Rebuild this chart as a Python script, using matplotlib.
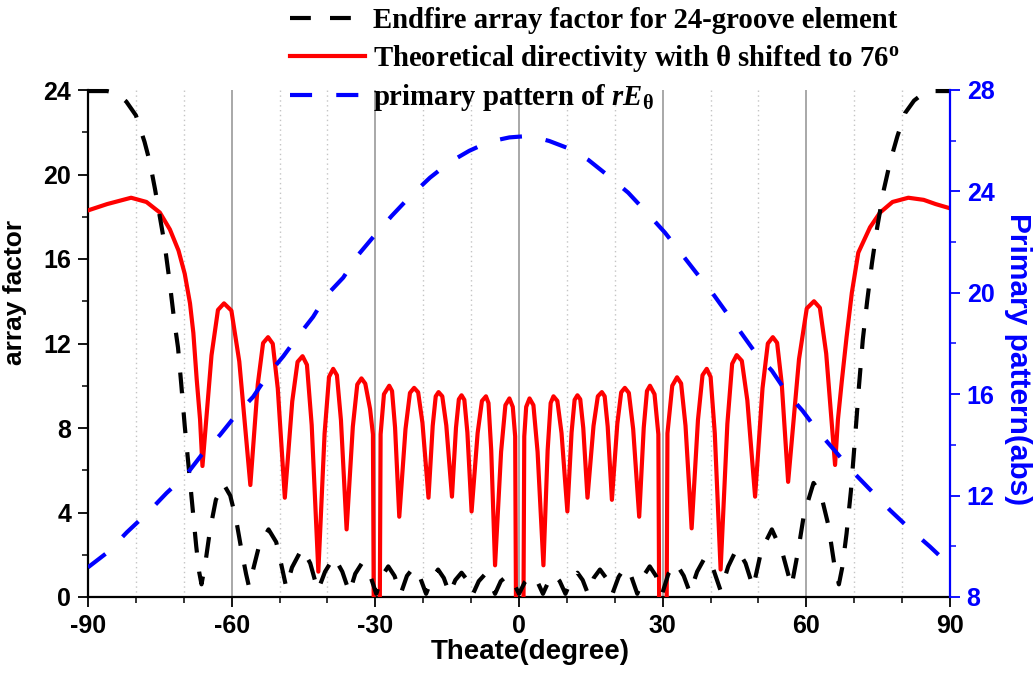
import matplotlib

matplotlib.use("Agg")
import matplotlib.pyplot as plt
from matplotlib.font_manager import FontProperties
from matplotlib.ticker import MultipleLocator

plt.rcParams["font.family"] = ["Liberation Sans", "DejaVu Sans"]
plt.rcParams["font.weight"] = "bold"
plt.rcParams["axes.labelweight"] = "bold"
plt.rcParams["axes.unicode_minus"] = False
plt.rcParams["mathtext.fontset"] = "custom"
plt.rcParams["mathtext.rm"] = "Liberation Serif:bold"
plt.rcParams["mathtext.it"] = "Liberation Serif:italic:bold"
plt.rcParams["mathtext.bf"] = "Liberation Serif:bold"

BLUE = "#0000FF"
RED = "#FF0000"

# endfire array factor (left axis)
AF_THETA = [-90, -86, -84, -82, -80, -78.2, -77.1, -76, -75, -74, -73, -72,
            -71.2, -70.5, -69.8, -69, -68.2, -67.4, -66.8, -66.3, -65.5, -64.5,
            -63.3, -61.7, -60.3, -59.1, -57.9, -57.0, -56.4, -55.4, -54.3, -52.3,
            -50.7, -49.6, -48.6, -47.4, -45.3, -43.6, -42.0, -40.5, -38.6, -36.9,
            -35.4, -34.2, -32.8, -31.2, -29.8, -28.6, -27.3, -26.0, -24.7, -23.4,
            -22.0, -20.7, -19.4, -18.1, -16.9, -15.7, -14.5, -13.3, -12.0, -10.8,
            -9.6, -8.4, -7.2, -6.1, -5.0, -3.8, -2.5, -1.2, 0.0, 1.2, 2.5, 3.8,
            5.0, 6.2, 7.4, 8.5, 9.7, 10.9, 12.2, 13.3, 14.4, 15.6, 16.9, 18.2,
            19.5, 20.8, 22.1, 23.4, 24.7, 26.0, 27.3, 28.6, 29.9, 31.2, 32.8,
            34.4, 35.7, 37.2, 38.9, 40.6, 42.1, 43.7, 45.5, 47.3, 48.9, 50.6,
            52.8, 55.0, 56.9, 58.3, 59.5, 61.5, 63.0, 64.6, 65.8, 66.8, 67.5,
            68.4, 69.3, 70.2, 71.0, 71.8, 72.7, 73.7, 74.8, 76.2, 77.5, 79.0,
            80.6, 82.5, 84.5, 86.5, 90]
AF = [23.95, 23.95, 23.85, 23.45, 22.8, 21.55, 20.6, 19.3, 18.0, 16.7, 15.0, 13.1,
      11.8, 10.0, 8.1, 6.2, 4.3, 2.4, 1.2, 0.6, 1.6, 3.2,
      4.6, 5.35, 4.8, 3.7, 2.15, 1.1, 0.5, 1.4, 2.4, 3.2,
      2.6, 1.5, 0.45, 1.4, 2.3, 1.6, 0.3, 1.2, 1.9, 1.2,
      0.2, 1.1, 1.6, 1.1, 0.15, 1.0, 1.45, 1.0, 0.15, 1.0,
      1.4, 0.95, 0.15, 0.9, 1.3, 0.9, 0.15, 0.8, 1.15, 0.8,
      0.15, 0.75, 1.05, 0.75, 0.15, 0.75, 1.0, 0.7, 0.15, 0.7, 1.0, 0.75,
      0.15, 0.75, 1.05, 0.75, 0.15, 0.8, 1.15, 0.8, 0.15, 0.9, 1.3, 0.9,
      0.15, 0.95, 1.4, 1.0, 0.15, 1.0, 1.45, 1.0, 0.15, 1.1, 1.6,
      1.0, 0.2, 1.2, 1.9, 1.3, 0.3, 1.45, 2.3, 1.6, 0.45, 2.2,
      3.2, 2.1, 0.5, 2.2, 3.9, 5.4, 4.9, 3.4, 1.6, 0.6, 1.4,
      3.0, 5.0, 7.6, 10.0, 12.2, 14.0, 15.8, 17.5, 19.3, 20.6, 21.8,
      22.9, 23.5, 23.85, 23.95, 23.95]

# theoretical directivity (left axis); -2 marks the nulls that drop off the axis
DIR_THETA = [-90, -86, -81, -77.8, -75, -72.9, -71.1, -69.8, -68.7, -68.0, -67.3,
             -66.6, -66.1, -64.21, -62.86, -61.6, -60.06, -58.41, -56.1,
             -54.55, -53.44, -52.4, -51.42, -50.37, -48.9,
             -47.35, -46.24, -45.2, -44.28, -43.29, -41.9,
             -40.6, -39.67, -38.8, -38.02, -37.18, -36.0,
             -34.7, -33.77, -32.9, -32.1, -31.1, -30.5, -30.3, -29.1, -28.9, -28.2, -27.1,
             -26.51, -25.88, -25.0,
             -23.7, -22.77, -21.9, -21.06, -20.16, -18.9,
             -18.02, -17.39, -16.8, -16.02, -15.18, -14.0,
             -13.16, -12.56, -12.0, -11.41, -10.78, -9.9,
             -8.64, -7.74, -6.9, -6.37, -5.8, -5.0,
             -3.74, -2.84, -2.0, -1.3, -0.8, -0.6, 0.9, 1.1, 1.5, 2.2,
             3.01, 3.88, 5.1,
             5.98, 6.61, 7.2, 8.01, 8.88, 10.1,
             10.98, 11.61, 12.2, 12.79, 13.42, 14.3,
             15.56, 16.46, 17.3, 17.89, 18.52, 19.4,
             20.53, 21.34, 22.1, 22.94, 23.84, 25.1,
             26.05, 26.72, 27.35, 28.3, 29.1, 29.3, 30.8, 31.0, 32.0, 33.0,
             33.85, 34.77, 36.05,
             37.37, 38.32, 39.2, 40.01, 40.88, 42.1,
             43.51, 44.51, 45.45, 46.53, 47.68, 49.3,
             50.85, 51.96, 53.0, 53.9, 54.86, 56.2,
             58.47, 60.09, 61.6, 62.83, 64.15, 66.0,
             66.6, 67.4, 68.4, 69.5, 70.85, 73.3, 75.4, 78.0, 81.3, 84.5, 87.0, 90]
DIR = [18.3, 18.6, 18.9, 18.7, 18.2, 17.4, 16.4, 15.3, 13.9, 12.5, 10.3,
       8.4, 6.2, 11.44, 13.59, 13.9, 13.56, 11.15, 5.3,
       10.06, 12.02, 12.3, 11.99, 9.87, 4.7,
       9.26, 11.13, 11.4, 10.99, 8.14, 1.2,
       7.73, 10.42, 10.8, 10.5, 8.37, 3.2,
       8.06, 10.06, 10.35, 10.1, 8.9, 7.7, -2, -2, 7.7, 9.6, 10.0,
       9.75, 8.02, 3.8,
       7.95, 9.66, 9.9, 9.69, 8.24, 4.7,
       8.1, 9.5, 9.7, 9.5, 8.12, 4.75,
       8.01, 9.36, 9.55, 9.33, 7.79, 4.05,
       7.76, 9.28, 9.5, 9.18, 6.94, 1.5,
       6.87, 9.08, 9.4, 9.0, 7.6, -2, -2, 7.6, 9.0, 9.4,
       9.08, 6.87, 1.5,
       6.94, 9.18, 9.5, 9.28, 7.76, 4.05,
       7.79, 9.33, 9.55, 9.36, 8.0, 4.7,
       8.1, 9.5, 9.7, 9.5, 8.07, 4.6,
       8.2, 9.69, 9.9, 9.66, 7.95, 3.8,
       8.02, 9.75, 10.0, 9.6, 7.7, -2, -2, 7.75, 10.0, 10.4,
       10.11, 8.11, 3.25,
       8.38, 10.5, 10.8, 10.42, 7.76, 1.3,
       8.2, 11.04, 11.45, 11.18, 9.31, 4.75,
       9.88, 12.0, 12.3, 12.03, 10.11, 5.45,
       11.26, 13.66, 14.0, 13.69, 11.52, 6.25,
       8.4, 10.2, 12.3, 14.4, 16.3, 17.5, 18.2, 18.7, 18.9, 18.8, 18.6, 18.4]

# primary pattern of rE_theta (right axis)
PP_THETA = [-90, -85.8, -81.9, -77.4, -73.6, -69.4, -66.3, -62.4, -59.0, -55.5,
            -52.3, -49.2, -46.1, -43.0, -40.2, -36.7, -33.6, -30.4, -26.6, -22.9,
            -18.6, -14.5, -10.4, -6.2, -2.0, 2.2, 6.3, 10.3, 14.5, 18.4,
            22.8, 26.7, 30.5, 33.6, 37.1, 40.2, 43.4, 46.2, 49.5, 52.8,
            55.9, 59.2, 62.5, 66.0, 69.5, 73.7, 77.5, 81.7, 85.8, 90]
PP = [9.17, 9.78, 10.55, 11.35, 12.1, 12.84, 13.6, 14.4, 15.2, 15.9,
      16.8, 17.5, 18.3, 19.05, 19.9, 20.6, 21.49, 22.21, 23.03, 23.77,
      24.54, 25.15, 25.6, 25.96, 26.13, 26.19, 25.99, 25.7, 25.24, 24.65,
      23.95, 23.16, 22.37, 21.62, 20.77, 20.04, 19.2, 18.47, 17.6, 16.93,
      16.06, 15.35, 14.52, 13.76, 12.98, 12.16, 11.42, 10.67, 9.99, 9.24]

X_TICKS = [-90, -60, -30, 0, 30, 60, 90]
L_TICKS = [0, 4, 8, 12, 16, 20, 24]
R_TICKS = [8, 12, 16, 20, 24, 28]

LABELS = [
    "Endfire array factor for 24-groove element",
    "Theoretical directivity with \u03b8 shifted to 76$^\\mathregular{o}$",
    "primary pattern of $\\mathit{rE}_{\\mathregular{\u03b8}}$",
]

W, H = 1035, 673
fig = plt.figure(figsize=(W / 100, H / 100), dpi=100)
fig.patch.set_facecolor("white")
ax = fig.add_axes([88 / W, 1 - 597 / H, 862 / W, 507 / H])
ax2 = ax.twinx()

lw = 3.0
l_dir, = ax.plot(DIR_THETA, DIR, color=RED, lw=lw, zorder=3)
l_af, = ax.plot(AF_THETA, AF, color="black", lw=lw, dashes=(5.0, 4.6),
                zorder=4, clip_on=False)
l_pp, = ax2.plot(PP_THETA, PP, color=BLUE, lw=lw, dashes=(5.3, 5.8), zorder=5)

ax.set_xlim(-90, 90)
ax.set_ylim(0, 24)
ax2.set_ylim(8, 28)
ax.set_xticks(X_TICKS)
ax.set_yticks(L_TICKS)
ax2.set_yticks(R_TICKS)
ax.xaxis.set_minor_locator(MultipleLocator(10))
ax.yaxis.set_minor_locator(MultipleLocator(2))
ax2.yaxis.set_minor_locator(MultipleLocator(2))

# vertical grid: solid at majors, dotted at minors
ax.grid(which="major", axis="x", color="#9a9a9a", lw=1.2, ls="-", zorder=0)
ax.grid(which="minor", axis="x", color="#c4c4c4", lw=1.0, ls=(0, (1, 2.5)), zorder=0)
ax.set_axisbelow(True)

for a in (ax, ax2):
    a.spines["top"].set_visible(False)
ax.spines["right"].set_visible(False)
ax2.spines["left"].set_visible(False)
ax2.spines["bottom"].set_visible(False)
ax.spines["left"].set_linewidth(1.6)
ax.spines["bottom"].set_linewidth(1.6)
ax2.spines["right"].set_linewidth(1.6)
ax2.spines["right"].set_color(BLUE)

ax.tick_params(which="major", direction="out", length=7, width=1.3,
               labelsize=18, pad=5)
ax.tick_params(which="minor", direction="out", length=4, width=1.1)
ax2.tick_params(which="major", direction="out", length=7, width=1.3,
                labelsize=18, pad=5, colors=BLUE)
ax2.tick_params(which="minor", direction="out", length=4, width=1.1, colors=BLUE)
for t in ax.get_xticklabels() + ax.get_yticklabels() + ax2.get_yticklabels():
    t.set_fontweight("bold")

ax.set_xlabel("Theate(degree)", fontsize=20)
ax.xaxis.set_label_coords(0.513, -0.082)
ax.set_ylabel("array factor", fontsize=19)
ax.yaxis.set_label_coords(-0.071, 0.6)
ax2.set_ylabel("Primary pattern(abs)", fontsize=21.5, color=BLUE, rotation=-90,
               va="center")
ax2.yaxis.set_label_coords(1.079, 0.47)

leg_font = FontProperties(family="Liberation Serif", weight="bold", size=20.7)
leg = ax2.legend([l_af, l_dir, l_pp], LABELS, prop=leg_font, frameon=False,
                 loc="upper left", bbox_to_anchor=(290 / W, 1 - 7 / H),
                 bbox_transform=fig.transFigure, borderpad=0, borderaxespad=0,
                 handlelength=2.6, handletextpad=0.3, labelspacing=0.3)

fig.savefig("out.png", dpi=100, facecolor="white")
